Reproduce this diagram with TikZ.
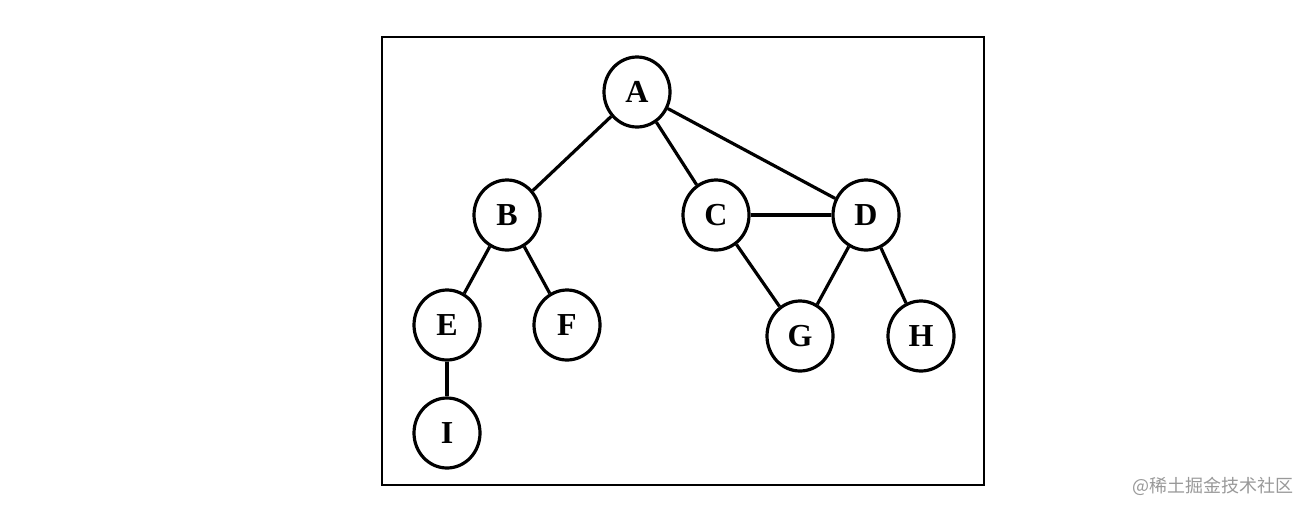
\documentclass[tikz,border=0pt]{standalone}
\usepackage{fontspec}
\setmainfont{Liberation Serif}
\newfontfamily\cjk{Noto Sans CJK SC}
\usetikzlibrary{shapes.geometric}
\begin{document}
\begin{tikzpicture}[x=1pt,y=-1pt,
  vertex/.style={draw,ellipse,line width=3.2pt,minimum width=66pt,minimum height=70pt,inner sep=0pt,fill=white,font=\fontsize{32}{36}\selectfont\bfseries},
  edge/.style={line width=3.2pt}]
\useasboundingbox[fill=white] (0,0) rectangle (1308,512);
\draw[line width=2.2pt] (382,37) rectangle (984,485);
\node[vertex] (A) at (637,92) {A};
\node[vertex] (B) at (507,215) {B};
\node[vertex] (C) at (716,215) {C};
\node[vertex] (D) at (866,215) {D};
\node[vertex] (E) at (447,325) {E};
\node[vertex] (F) at (567,325) {F};
\node[vertex] (G) at (800,336) {G};
\node[vertex] (H) at (921,336) {H};
\node[vertex] (I) at (447,433) {I};
\draw[edge] (A) -- (B);
\draw[edge] (A) -- (C);
\draw[edge] (A) -- (D);
\draw[edge] (B) -- (E);
\draw[edge] (B) -- (F);
\draw[edge] (C) -- (D);
\draw[edge] (C) -- (G);
\draw[edge] (D) -- (G);
\draw[edge] (D) -- (H);
\draw[edge] (E) -- (I);
\node[anchor=east,text=black!40,font=\cjk\fontsize{18}{20}\selectfont,inner sep=0pt] (wm) at (1294,486) {@稀土掘金技术社区};
\end{tikzpicture}
\end{document}
